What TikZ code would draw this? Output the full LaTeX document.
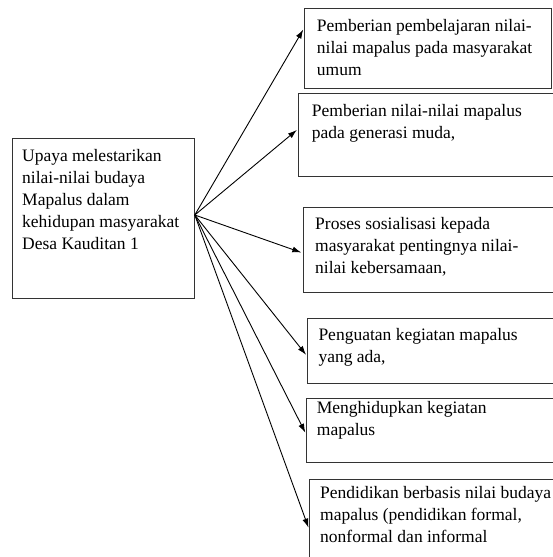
\documentclass[tikz,border=0pt]{standalone}
\usepackage{fontspec}
\setmainfont{Liberation Serif}
\usetikzlibrary{arrows.meta,calc}
\tikzset{
  boxnode/.style={draw=black!80, line width=0.8pt, rectangle, inner sep=0pt, anchor=north west},
  txt/.style={anchor=north west, inner sep=0pt, align=left, font=\fontsize{17.5}{21.8}\selectfont, text=black},
  arr/.style={line width=0.9pt, -{Latex[length=9pt,width=6pt]}, shorten >=1.5pt}
}
\newcommand{\fl}{\rule{0pt}{14pt}}
\begin{document}
\begin{tikzpicture}[x=1pt,y=-1pt]
\useasboundingbox (0,0) rectangle (553,557);
\fill[white] (0,0) rectangle (553,557);
% left box
\node[boxnode, minimum width=182pt, minimum height=160pt] (src) at (12,138) {};
\node[txt] (tsrc) at (22,147.7) {\fl Upaya melestarikan\\nilai-nilai budaya\\Mapalus dalam\\kehidupan masyarakat\\Desa Kauditan 1};
% right boxes
\node[boxnode, minimum width=247pt, minimum height=80pt] (b1) at (304,8) {};
\node[boxnode, minimum width=270pt, minimum height=83pt] (b2) at (298,93) {};
\node[boxnode, minimum width=270pt, minimum height=85pt] (b3) at (302.7,207) {};
\node[boxnode, minimum width=270pt, minimum height=65pt] (b4) at (307,318) {};
\node[boxnode, minimum width=270pt, minimum height=64pt] (b5) at (306,398) {};
\node[boxnode, minimum width=270pt, minimum height=100pt] (b6) at (309,479) {};
% texts
\node[txt] (t1) at (316.7,17.7) {\fl Pemberian pembelajaran nilai-\\nilai mapalus pada masyarakat\\umum};
\node[txt] (t2) at (311.7,102.7) {\fl Pemberian nilai-nilai mapalus\\pada generasi muda,};
\node[txt] (t3) at (315,215.3) {\fl Proses sosialisasi kepada\\masyarakat pentingnya nilai-\\nilai kebersamaan,};
\node[txt] (t4) at (318.3,326) {\fl Penguatan kegiatan mapalus\\yang ada,};
\node[txt] (t5) at (316.7,399.3) {\fl Menghidupkan kegiatan\\mapalus};
\node[txt] (t6) at (320,484.3) {\fl Pendidikan berbasis nilai budaya\\mapalus (pendidikan formal,\\nonformal dan informal};
% arrows
\coordinate (o) at ($(src.north east)+(0,77)$);
\draw[arr] (o) -- ($(b1.north west)+(0,20.3)$);
\draw[arr] (o) -- ($(b2.north west)+(0,36)$);
\draw[arr] (o) -- ($(b3.north west)+(0,46)$);
\draw[arr] (o) -- ($(b4.north west)+(0,38)$);
\draw[arr] (o) -- ($(b5.north west)+(0,36)$);
\draw[arr] (o) -- ($(b6.north west)+(0,50)$);
\end{tikzpicture}
\end{document}
